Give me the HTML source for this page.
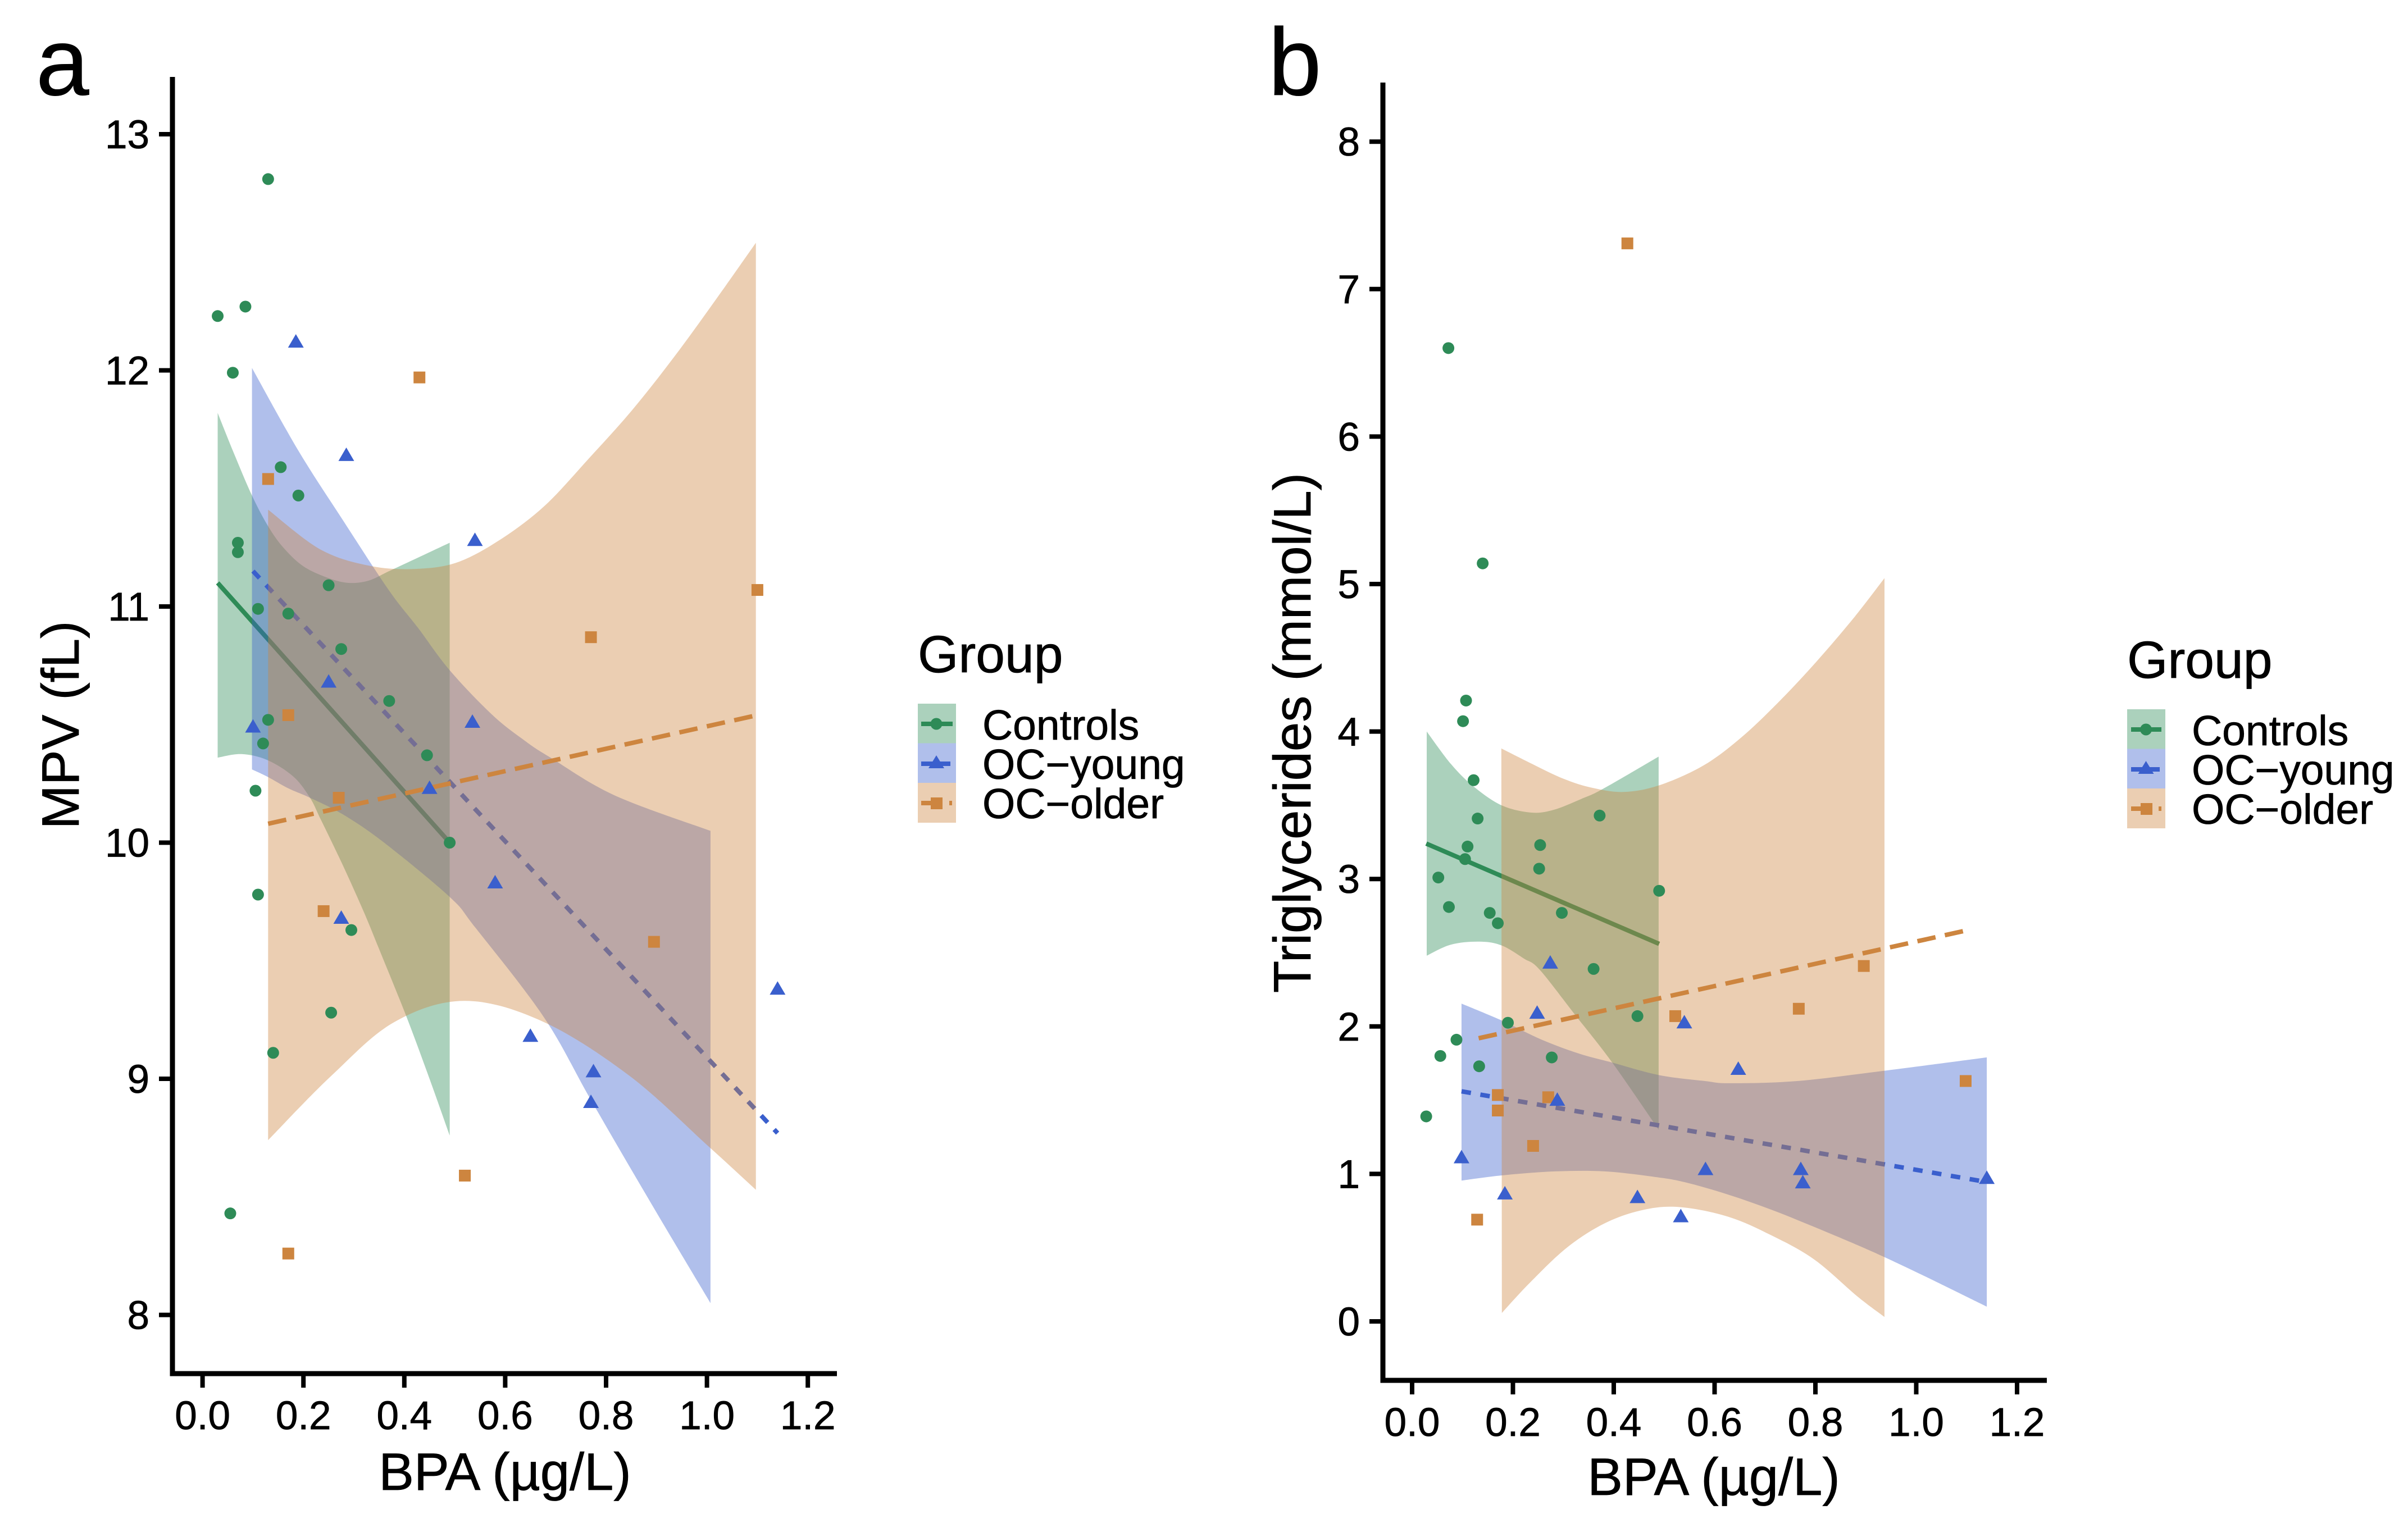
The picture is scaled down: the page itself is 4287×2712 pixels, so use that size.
<!DOCTYPE html>
<html lang="en">
<head>
<meta charset="utf-8">
<title>BPA vs MPV and Triglycerides</title>
<style>
html,body{margin:0;padding:0;background:#fff;}
svg{display:block;}
text{font-family:"Liberation Sans",Arial,sans-serif;fill:#000;stroke:#000;stroke-width:0.8;}
.tick{font-size:71px;}
.title{font-size:94px;}
.lt{font-size:75px;}
.lg{font-size:93px;}
.pl{font-size:170px;}
</style>
</head>
<body>
<svg id="figure" xmlns="http://www.w3.org/2000/svg" width="4287" height="2712" viewBox="0 0 4287 2712">
  <rect x="0" y="0" width="4287" height="2712" fill="#fff"/>
  <g id="panel-a"></g>
  <g id="panel-b"></g>

  <text class="pl" x="64" y="169">a</text>
  <text class="pl" x="2258" y="169">b</text>

  <text class="title" x="899" y="2653" text-anchor="middle">BPA (µg/L)</text>
  <text class="title" x="3051" y="2662" text-anchor="middle">BPA (µg/L)</text>
  <text class="title" transform="translate(140,1291) rotate(-90)" text-anchor="middle">MPV (fL)</text>
  <text class="title" transform="translate(2333,1305) rotate(-90)" text-anchor="middle">Triglycerides (mmol/L)</text>

  <g>
    <text class="lg" x="1634" y="1197">Group</text>
    <rect x="1634" y="1253" width="68" height="70.5" fill="#2e8b57" fill-opacity="0.4"/>
    <rect x="1634" y="1323.5" width="68" height="70.5" fill="#3a5fcd" fill-opacity="0.4"/>
    <rect x="1634" y="1394" width="68" height="71" fill="#cd853f" fill-opacity="0.4"/>
    <line x1="1640" x2="1696" y1="1289" y2="1289" stroke="#2e8b57" stroke-width="8"/>
    <circle cx="1667" cy="1289" r="10.5" fill="#2e8b57"/>
    <line x1="1640" x2="1692" y1="1360" y2="1360" stroke="#3a5fcd" stroke-width="8"/>
    <polygon points="1667,1345 1681,1368 1653,1368" fill="#3a5fcd"/>
    <line x1="1640" x2="1662" y1="1430" y2="1430" stroke="#cd853f" stroke-width="8"/>
    <rect x="1657" y="1420" width="21" height="21" fill="#cd853f"/>
    <line x1="1690" x2="1695" y1="1430" y2="1430" stroke="#cd853f" stroke-width="8"/>
    <text class="lt" x="1749" y="1317">Controls</text>
    <text class="lt" x="1749" y="1387">OC−young</text>
    <text class="lt" x="1749" y="1457">OC−older</text>
  </g>

  <g>
    <text class="lg" x="3787" y="1207">Group</text>
    <rect x="3787" y="1263" width="68" height="70.5" fill="#2e8b57" fill-opacity="0.4"/>
    <rect x="3787" y="1333.5" width="68" height="70.5" fill="#3a5fcd" fill-opacity="0.4"/>
    <rect x="3787" y="1404" width="68" height="71" fill="#cd853f" fill-opacity="0.4"/>
    <line x1="3794" x2="3848" y1="1299" y2="1299" stroke="#2e8b57" stroke-width="8"/>
    <circle cx="3820.5" cy="1299" r="10.5" fill="#2e8b57"/>
    <line x1="3794" x2="3845" y1="1370" y2="1370" stroke="#3a5fcd" stroke-width="8"/>
    <polygon points="3820.5,1355 3834.5,1378 3806.5,1378" fill="#3a5fcd"/>
    <line x1="3794" x2="3816" y1="1440" y2="1440" stroke="#cd853f" stroke-width="8"/>
    <rect x="3811" y="1430" width="21" height="21" fill="#cd853f"/>
    <line x1="3843" x2="3848" y1="1440" y2="1440" stroke="#cd853f" stroke-width="8"/>
    <text class="lt" x="3902" y="1327">Controls</text>
    <text class="lt" x="3902" y="1397">OC−young</text>
    <text class="lt" x="3902" y="1467">OC−older</text>
  </g>
</svg>

<script>
// ---------- tick labels ----------
const xTickLabels = ['0.0','0.2','0.4','0.6','0.8','1.0','1.2'];
const aYTickLabels = ['8','9','10','11','12','13'];
const bYTickLabels = ['0','1','2','3','4','5','6','7','8'];

// ---------- Panel a: scatter points ----------
const aControlsX = [0.03,0.085,0.06,0.13,0.155,0.19,0.07,0.07,0.25,0.11,0.17,0.275,0.37,0.13,0.12,0.445,0.105,0.49,0.11,0.295,0.255,0.14,0.055];
const aControlsY = [12.23,12.27,11.99,12.81,11.59,11.47,11.27,11.23,11.09,10.99,10.97,10.82,10.6,10.52,10.42,10.37,10.22,10.0,9.78,9.63,9.28,9.11,8.43];
const aYoungX = [0.185,0.285,0.54,0.25,0.535,0.10,0.45,0.58,0.275,0.65,0.775,0.77,1.14];
const aYoungY = [12.12,11.64,11.28,10.68,10.51,10.49,10.23,9.83,9.68,9.18,9.03,8.90,9.38];
const aOlderX = [0.13,0.43,0.17,0.27,0.24,0.77,0.895,1.10,0.52,0.17];
const aOlderY = [11.54,11.97,10.54,10.19,9.71,10.87,9.58,11.07,8.59,8.26];

// ---------- Panel a: fit lines ----------
const aControlsFitX = [0.03,0.49];
const aControlsFitY = [11.10,10.0];
const aYoungFitX = [0.10,1.14];
const aYoungFitY = [11.15,8.77];
const aOlderFitX = [0.13,1.10];
const aOlderFitY = [10.08,10.54];

// ---------- Panel a: confidence bands ----------
const aControlsUpperX = [0.03,0.06,0.098,0.13,0.16,0.2,0.25,0.29,0.33,0.37,0.43,0.49];
const aControlsUpperY = [11.82,11.66,11.47,11.34,11.25,11.17,11.12,11.10,11.11,11.15,11.21,11.27];
const aControlsLowerX = [0.03,0.077,0.128,0.18,0.213,0.234,0.278,0.32,0.348,0.403,0.45,0.49];
const aControlsLowerY = [10.36,10.375,10.35,10.28,10.19,10.10,9.905,9.705,9.56,9.27,9.00,8.76];
const aYoungUpperX = [0.098,0.19,0.28,0.369,0.427,0.49,0.575,0.64,0.69,0.817,1.007];
const aYoungUpperY = [12.01,11.66,11.36,11.07,10.91,10.73,10.54,10.43,10.36,10.20,10.05];
const aYoungLowerX = [0.098,0.128,0.17,0.213,0.278,0.36,0.49,0.541,0.677,0.77,0.89,1.007];
const aYoungLowerY = [10.31,10.28,10.23,10.19,10.12,10.0,9.77,9.64,9.26,8.91,8.47,8.05];
const aOlderUpperX = [0.13,0.235,0.337,0.43,0.509,0.595,0.68,0.765,0.851,0.936,1.021,1.097];
const aOlderUpperY = [11.41,11.24,11.17,11.16,11.19,11.29,11.43,11.625,11.83,12.06,12.31,12.54];
const aOlderLowerX = [0.13,0.254,0.38,0.52,0.677,0.848,1.005,1.097];
const aOlderLowerY = [8.74,9.01,9.24,9.33,9.24,9.01,8.71,8.53];

// ---------- Panel b: scatter points ----------
const bControlsX = [0.072,0.14,0.107,0.101,0.122,0.13,0.372,0.254,0.11,0.105,0.052,0.252,0.49,0.073,0.154,0.297,0.17,0.36,0.447,0.19,0.088,0.056,0.277,0.133,0.028];
const bControlsY = [6.60,5.14,4.21,4.07,3.67,3.41,3.43,3.23,3.22,3.135,3.01,3.07,2.92,2.81,2.77,2.77,2.70,2.39,2.07,2.025,1.91,1.80,1.79,1.73,1.39];
const bYoungX = [0.274,0.248,0.54,0.647,0.288,0.098,0.582,0.771,0.775,0.184,0.447,0.533,1.14];
const bYoungY = [2.43,2.09,2.025,1.71,1.50,1.11,1.03,1.03,0.94,0.865,0.84,0.71,0.97];
const bOlderX = [0.427,0.896,0.767,0.522,1.098,0.17,0.27,0.17,0.24,0.129];
const bOlderY = [7.31,2.41,2.12,2.07,1.63,1.535,1.52,1.43,1.19,0.69];

// ---------- Panel b: fit lines ----------
const bControlsFitX = [0.028,0.49];
const bControlsFitY = [3.24,2.56];
const bYoungFitX = [0.098,1.14];
const bYoungFitY = [1.56,0.945];
const bOlderFitX = [0.132,1.098];
const bOlderFitY = [1.92,2.65];

// ---------- Panel b: confidence bands ----------
const bControlsUpperX = [0.029,0.077,0.121,0.177,0.237,0.282,0.337,0.378,0.489];
const bControlsUpperY = [4.0,3.78,3.63,3.50,3.45,3.47,3.545,3.61,3.83];
const bControlsLowerX = [0.029,0.077,0.133,0.177,0.222,0.253,0.323,0.397,0.489];
const bControlsLowerY = [2.48,2.555,2.575,2.55,2.46,2.385,2.08,1.755,1.30];
const bYoungUpperX = [0.098,0.178,0.257,0.332,0.397,0.49,0.581,0.631,0.764,0.937,1.14];
const bYoungUpperY = [2.155,2.04,1.91,1.815,1.755,1.67,1.63,1.615,1.63,1.70,1.79];
const bYoungLowerX = [0.098,0.178,0.283,0.382,0.481,0.541,0.627,0.713,0.798,0.883,0.938,1.011,1.14];
const bYoungLowerY = [0.955,0.99,1.017,1.017,0.98,0.944,0.86,0.757,0.64,0.518,0.434,0.316,0.10];
const bOlderUpperX = [0.177,0.244,0.30,0.355,0.419,0.49,0.578,0.653,0.727,0.801,0.876,0.937];
const bOlderUpperY = [3.885,3.77,3.68,3.62,3.59,3.635,3.77,3.96,4.20,4.47,4.77,5.04];
const bOlderLowerX = [0.178,0.233,0.307,0.382,0.457,0.531,0.627,0.713,0.798,0.883,0.937];
const bOlderLowerY = [0.057,0.26,0.50,0.665,0.755,0.775,0.71,0.583,0.419,0.17,0.03];

// ---------- helpers ----------
const SVGNS = 'http://www.w3.org/2000/svg';
const GREEN = '#2e8b57', BLUE = '#3a5fcd', TAN = '#cd853f';

function make(tag, parent, attrs) {
  const el = document.createElementNS(SVGNS, tag);
  for (const k in attrs) el.setAttribute(k, attrs[k]);
  parent.appendChild(el);
  return el;
}

// Smooth curve through points (Catmull-Rom converted to cubic Bezier segments)
function curve(pts) {
  let d = '';
  for (let i = 0; i < pts.length - 1; i++) {
    const p0 = pts[Math.max(i - 1, 0)], p1 = pts[i], p2 = pts[i + 1], p3 = pts[Math.min(i + 2, pts.length - 1)];
    const c1x = p1[0] + (p2[0] - p0[0]) / 6, c1y = p1[1] + (p2[1] - p0[1]) / 6;
    const c2x = p2[0] - (p3[0] - p1[0]) / 6, c2y = p2[1] - (p3[1] - p1[1]) / 6;
    d += ' C' + c1x.toFixed(1) + ' ' + c1y.toFixed(1) + ' ' + c2x.toFixed(1) + ' ' + c2y.toFixed(1) + ' ' + p2[0].toFixed(1) + ' ' + p2[1].toFixed(1);
  }
  return d;
}

function drawBand(g, sx, sy, upX, upY, loX, loY, color, name) {
  const up = upX.map((v, i) => [sx(v), sy(upY[i])]);
  const lo = loX.map((v, i) => [sx(v), sy(loY[i])]).reverse();
  const d = 'M' + up[0][0] + ' ' + up[0][1] + curve(up) + ' L' + lo[0][0] + ' ' + lo[0][1] + curve(lo) + ' Z';
  const el = make('path', g, { d: d, fill: color, 'fill-opacity': 0.4, stroke: 'none' });
  
  
}

function drawFit(g, sx, sy, fx, fy, color, dash, name) {
  const el = make('line', g, {
    x1: sx(fx[0]), y1: sy(fy[0]), x2: sx(fx[1]), y2: sy(fy[1]),
    stroke: color, 'stroke-width': 8, 'stroke-dasharray': dash, 'stroke-linecap': 'butt'
  });
  
  
}

function drawCircles(g, sx, sy, xs, ys) {
  xs.forEach((v, i) => {
    const el = make('circle', g, { cx: sx(v), cy: sy(ys[i]), r: 10.5, fill: GREEN });
    
    
  });
}
function drawTriangles(g, sx, sy, xs, ys) {
  xs.forEach((v, i) => {
    const px = sx(v), py = sy(ys[i]);
    const pts = px + ',' + (py - 14) + ' ' + (px + 14) + ',' + (py + 10) + ' ' + (px - 14) + ',' + (py + 10);
    const el = make('polygon', g, { points: pts, fill: BLUE });
    
    
  });
}
function drawSquares(g, sx, sy, xs, ys) {
  xs.forEach((v, i) => {
    const el = make('rect', g, { x: sx(v) - 10.5, y: sy(ys[i]) - 10.5, width: 21, height: 21, fill: TAN });
    
    
  });
}

function drawAxes(g, sx, sy, yLabels, frame) {
  xTickLabels.forEach(lab => {
    const px = sx(parseFloat(lab));
    const tick = make('line', g, { x1: px, x2: px, y1: frame.bottom, y2: frame.bottom + 25, stroke: '#000', 'stroke-width': 8 });
    
    
    const t = make('text', g, { x: px, y: frame.bottom + 99, 'text-anchor': 'middle', class: 'tick' });
    t.textContent = lab;
    
    
  });
  yLabels.forEach(lab => {
    const py = sy(parseFloat(lab));
    const tick = make('line', g, { x1: frame.left - 24, x2: frame.left, y1: py, y2: py, stroke: '#000', 'stroke-width': 8 });
    
    
    const t = make('text', g, { x: frame.left - 41, y: py + 25, 'text-anchor': 'end', class: 'tick' });
    t.textContent = lab;
    
    
  });
  const yAxis = make('line', g, { x1: frame.left, x2: frame.left, y1: frame.top, y2: frame.bottom + 4.5, stroke: '#000', 'stroke-width': 9 });
  
  
  const xAxis = make('line', g, { x1: frame.left - 4.5, x2: frame.right, y1: frame.bottom, y2: frame.bottom, stroke: '#000', 'stroke-width': 9 });
  
  
}

// ---------- axis functions ----------
const aSx = v => 360.6 + 898 * v;
const aSy = v => 1500.5 - 420.5 * (v - 10);
const bSx = v => 2514 + 897.5 * v;
const bSy = v => 2353 - 262.6 * v;

const YOUNG_DASH = '17 17', OLDER_DASH = '33 17';

// ---------- Panel a ----------
const gA = document.getElementById('panel-a');
drawBand(gA, aSx, aSy, aControlsUpperX, aControlsUpperY, aControlsLowerX, aControlsLowerY, GREEN, 'controls-confidence-band');
drawFit(gA, aSx, aSy, aControlsFitX, aControlsFitY, GREEN, 'none', 'controls-fit-line');
drawBand(gA, aSx, aSy, aYoungUpperX, aYoungUpperY, aYoungLowerX, aYoungLowerY, BLUE, 'oc-young-confidence-band');
drawFit(gA, aSx, aSy, aYoungFitX, aYoungFitY, BLUE, YOUNG_DASH, 'oc-young-fit-line');
drawBand(gA, aSx, aSy, aOlderUpperX, aOlderUpperY, aOlderLowerX, aOlderLowerY, TAN, 'oc-older-confidence-band');
drawFit(gA, aSx, aSy, aOlderFitX, aOlderFitY, TAN, OLDER_DASH, 'oc-older-fit-line');
drawCircles(gA, aSx, aSy, aControlsX, aControlsY);
drawSquares(gA, aSx, aSy, aOlderX, aOlderY);
drawTriangles(gA, aSx, aSy, aYoungX, aYoungY);
drawAxes(gA, aSx, aSy, aYTickLabels, { left: 307, right: 1490, top: 137, bottom: 2446 });

// ---------- Panel b ----------
const gB = document.getElementById('panel-b');
drawBand(gB, bSx, bSy, bControlsUpperX, bControlsUpperY, bControlsLowerX, bControlsLowerY, GREEN, 'controls-confidence-band');
drawFit(gB, bSx, bSy, bControlsFitX, bControlsFitY, GREEN, 'none', 'controls-fit-line');
drawBand(gB, bSx, bSy, bYoungUpperX, bYoungUpperY, bYoungLowerX, bYoungLowerY, BLUE, 'oc-young-confidence-band');
drawFit(gB, bSx, bSy, bYoungFitX, bYoungFitY, BLUE, YOUNG_DASH, 'oc-young-fit-line');
drawBand(gB, bSx, bSy, bOlderUpperX, bOlderUpperY, bOlderLowerX, bOlderLowerY, TAN, 'oc-older-confidence-band');
drawFit(gB, bSx, bSy, bOlderFitX, bOlderFitY, TAN, OLDER_DASH, 'oc-older-fit-line');
drawCircles(gB, bSx, bSy, bControlsX, bControlsY);
drawSquares(gB, bSx, bSy, bOlderX, bOlderY);
drawTriangles(gB, bSx, bSy, bYoungX, bYoungY);
drawAxes(gB, bSx, bSy, bYTickLabels, { left: 2462, right: 3644, top: 147, bottom: 2458 });
</script>
</body>
</html>
